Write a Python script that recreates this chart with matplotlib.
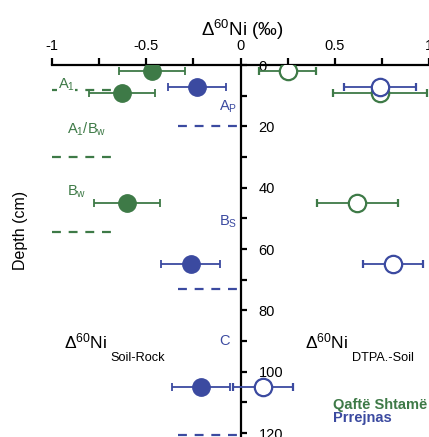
import matplotlib.pyplot as plt
from matplotlib.ticker import MultipleLocator

plt.rcParams['font.family'] = ['Liberation Sans', 'DejaVu Sans']
plt.rcParams['mathtext.default'] = 'regular'

green = '#3e7a47'
blue = '#3b4aa0'

# Qafte Shtame profile
qs_depth = [2, 9, 45]
qs_soil_rock = [-0.47, -0.63, -0.60]
qs_soil_rock_err = [0.175, 0.175, 0.175]
qs_dtpa = [0.25, 0.74, 0.62]
qs_dtpa_err = [0.15, 0.25, 0.215]
qs_bounds = [8, 30, 54.5]
qs_horizons = ['A$_1$', 'A$_1$/B$_w$', 'B$_w$']
qs_label_depth = [6.5, 21, 41.5]

# Prrejnas profile
pr_depth = [7.3, 65, 105]
pr_soil_rock = [-0.23, -0.265, -0.21]
pr_soil_rock_err = [0.155, 0.157, 0.155]
pr_dtpa = [0.74, 0.81, 0.12]
pr_dtpa_err = [0.19, 0.16, 0.16]
pr_bounds = [20, 73, 120.5]
pr_horizons = ['A$_P$', 'B$_S$', 'C']
pr_label_depth = [13.5, 51, 90]

fig = plt.figure(figsize=(4.29, 4.37), dpi=100)
ax = fig.add_axes([52/429, 0, 377/429, 1 - 65/437])
ax.set_xlim(-1, 1)
ax.set_ylim(121.3, 0)

# spines: top as x axis, y axis through zero
for s in ['left', 'bottom']:
    ax.spines[s].set_visible(False)
ax.spines['right'].set_position(('data', 0))
for s in ['top', 'right']:
    ax.spines[s].set_linewidth(1.6)
ax.xaxis.tick_top()
ax.yaxis.tick_right()
ax.xaxis.set_minor_locator(MultipleLocator(0.25))
ax.yaxis.set_major_locator(MultipleLocator(20))
ax.yaxis.set_minor_locator(MultipleLocator(10))
ax.set_xticks([-1, -0.5, 0, 0.5, 1], ['-1', '-0.5', '0', '0.5', '1'])
ax.tick_params(axis='x', which='both', direction='out', length=5, width=1.6,
               labelsize=10.5, pad=4)
ax.tick_params(axis='y', which='both', direction='out', length=4, width=1.6,
               labelsize=10.5, pad=9)

eb = dict(fmt='o', ms=12.5, capsize=3, elinewidth=1.3, capthick=1.3, zorder=3)
ax.errorbar(qs_soil_rock, qs_depth, xerr=qs_soil_rock_err, color=green, **eb)
ax.errorbar(pr_soil_rock, pr_depth, xerr=pr_soil_rock_err, color=blue, **eb)
ax.errorbar(qs_dtpa, qs_depth, xerr=qs_dtpa_err, color=green, mfc='white',
            mew=1.6, **eb)
ax.errorbar(pr_dtpa, pr_depth, xerr=pr_dtpa_err, color=blue, mfc='white',
            mew=1.6, **eb)

# horizon boundaries
for d in qs_bounds:
    ax.plot([-1, -0.686], [d, d], color=green, lw=1.6, ls=(0, (4, 3.5)))
for d in pr_bounds:
    ax.plot([-0.33, 0], [d, d], color=blue, lw=1.6, ls=(0, (4, 3.5)), clip_on=False)

for i, (name, d) in enumerate(zip(qs_horizons, qs_label_depth)):
    kw = dict(bbox=dict(fc='white', ec='none', pad=0.5)) if i == 0 else {}
    ax.text(-0.97 if i == 0 else -0.92, d, name, color=green, fontsize=10.5,
            va='center', ha='left', **kw)
for name, d in zip(pr_horizons, pr_label_depth):
    ax.text(-0.115, d, name, color=blue, fontsize=10.5, va='center', ha='left')

ax.text(-0.936, 92.5, r'$\Delta^{60}$Ni', fontsize=12.5, va='baseline')
ax.text(-0.691, 96.5, 'Soil-Rock', fontsize=9.2, va='baseline')
ax.text(0.34, 92.5, r'$\Delta^{60}$Ni', fontsize=12.5, va='baseline')
ax.text(0.589, 96.5, 'DTPA.-Soil', fontsize=9.2, va='baseline')

ax.text(0.49, 111, 'Qaftë Shtamë', color=green, fontsize=10.5,
        fontweight='bold', va='center', clip_on=False)
ax.text(0.49, 115, 'Prrejnas', color=blue, fontsize=10.5,
        fontweight='bold', va='center')

fig.text(242/429, 1 - 36/437, r'$\Delta^{60}$Ni (‰)', fontsize=13.5,
         ha='center', va='baseline')
fig.text(21/429, 1 - 230/437, 'Depth (cm)', fontsize=11.5, rotation=90,
         ha='center', va='center')

fig.savefig('out.png', dpi=100)
